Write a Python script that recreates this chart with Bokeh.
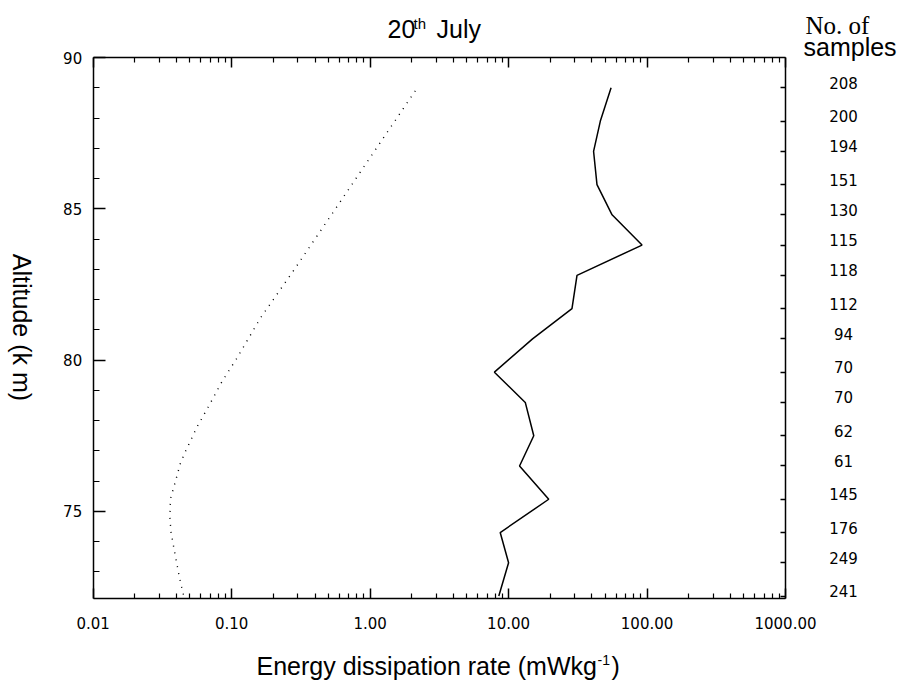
import math
from bokeh.plotting import figure
from bokeh.models import (Range1d, LogAxis, LinearAxis, FixedTicker, Label,
                          LabelSet, ColumnDataSource)
from bokeh.core.properties import value
from bokeh.embed import file_html
from bokeh.resources import INLINE

# ---------------- data ----------------
altitude_km = [89.0, 87.9, 86.9, 85.8, 84.8, 83.8, 82.8, 81.7, 80.7,
               79.6, 78.6, 77.5, 76.5, 75.4, 74.3, 73.3, 72.2]
dissipation_rate = [55.0, 46.0, 41.1, 43.5, 55.9, 92.0, 31.2, 28.7, 14.9,
                    7.9, 13.2, 15.2, 12.0, 19.5, 8.7, 10.0, 8.5]
n_samples = [208, 200, 194, 151, 130, 115, 118, 112, 94,
             70, 70, 62, 61, 145, 176, 249, 241]

model_altitude_km = [88.9, 87.0, 85.0, 83.0, 81.4, 80.0, 79.3, 78.5, 77.8,
                     77.0, 76.6, 76.0, 75.4, 74.8, 74.3, 73.5, 72.8, 72.2]
model_rate = [2.12, 1.11, 0.562, 0.284, 0.162, 0.107, 0.0854, 0.0687, 0.0564,
              0.0466, 0.0427, 0.0393, 0.0361, 0.0358, 0.0365, 0.0393, 0.042, 0.0451]

x_ticks = [0.01, 0.1, 1, 10, 100, 1000]
x_tick_labels = ["0.01", "0.10", "1.00", "10.00", "100.00", "1000.00"]
y_ticks = [75, 80, 85, 90]
y_tick_labels = ["75", "80", "85", "90"]

# ---------------- layout (canvas pixels) ----------------
W, H = 904, 681
BOX_L, BOX_R, BOX_T, BOX_B = 92.7, 785.0, 57.0, 598.0   # plot box on canvas
X0, X1 = 0.01, 1000.0                                    # box data extent
Y0, Y1 = 72.12, 90.0

DEC = (BOX_R - BOX_L) / (math.log10(X1) - math.log10(X0))   # px per decade
KM = (BOX_B - BOX_T) / (Y1 - Y0)                            # px per km

# the data ranges cover the whole canvas so that texts outside the box show
xr = Range1d(10 ** (math.log10(X0) - BOX_L / DEC), 10 ** (math.log10(X1) + (W - BOX_R) / DEC))
yr = Range1d(Y0 - (H - BOX_B) / KM, Y1 + BOX_T / KM)


def px_x(px):
    return 10 ** (math.log10(X0) + (px - BOX_L) / DEC)


def px_y(py):
    return Y1 - (py - BOX_T) / KM


p = figure(width=W, height=H, x_axis_type="log", x_range=xr, y_range=yr,
           x_axis_location=None, y_axis_location=None, title=None,
           output_backend="svg", toolbar_location=None,
           min_border_left=0, min_border_right=0,
           min_border_top=0, min_border_bottom=0)
p.background_fill_color = "white"
p.border_fill_color = "white"
p.outline_line_color = None
p.xgrid.visible = False
p.ygrid.visible = False

minor_x = [k * 10 ** e for e in range(-2, 3) for k in range(2, 10)]
minor_y = [v for v in range(73, 90) if v % 5 != 0]

TICK_FONT = "DejaVu Sans"


def style(ax):
    ax.axis_line_color = "black"
    ax.axis_line_width = 1.5
    ax.major_tick_line_color = "black"
    ax.minor_tick_line_color = "black"
    ax.major_tick_line_width = 1.5
    ax.minor_tick_line_width = 1.2
    ax.major_label_text_font = TICK_FONT
    ax.major_label_text_font_size = "15px"
    ax.major_label_text_color = "black"


# bottom axis
xa = LogAxis(ticker=FixedTicker(ticks=x_ticks, minor_ticks=minor_x),
             fixed_location=Y0, bounds=(X0, X1))
style(xa)
xa.major_label_overrides = {t: l for t, l in zip(x_ticks, x_tick_labels)}
xa.major_tick_in, xa.major_tick_out = 10, 0
xa.minor_tick_in, xa.minor_tick_out = 5, 0
xa.major_label_standoff = 18
p.add_layout(xa, "below")

# top axis (mirror, no labels)
top = LogAxis(ticker=FixedTicker(ticks=x_ticks, minor_ticks=minor_x),
              fixed_location=Y1, bounds=(X0, X1))
style(top)
top.major_tick_in, top.major_tick_out = 10, 0
top.minor_tick_in, top.minor_tick_out = 5, 0
top.major_label_text_alpha = 0
p.add_layout(top, "above")

# left axis
ya = LinearAxis(ticker=FixedTicker(ticks=y_ticks, minor_ticks=minor_y),
                fixed_location=X0, bounds=(Y0, Y1))
style(ya)
ya.major_label_overrides = {t: l for t, l in zip(y_ticks, y_tick_labels)}
ya.major_tick_in, ya.major_tick_out = 12, 0
ya.minor_tick_in, ya.minor_tick_out = 6, 0
ya.major_label_standoff = 11
p.add_layout(ya, "left")

# right axis: ticks at the sample altitudes
right = LinearAxis(ticker=FixedTicker(ticks=altitude_km, minor_ticks=[]),
                   fixed_location=X1, bounds=(Y0, Y1))
style(right)
right.major_tick_in, right.major_tick_out = 5, 0
right.minor_tick_in, right.minor_tick_out = 0, 0
right.major_label_text_alpha = 0
p.add_layout(right, "right")

# ---------------- data lines ----------------
p.line(model_rate, model_altitude_km, line_color="black", line_width=1.4,
       line_dash="1 6")
p.line(dissipation_rate, altitude_km, line_color="black", line_width=1.5)

# number of samples labels
src = ColumnDataSource(dict(alt=altitude_km, txt=[str(n) for n in n_samples]))
p.add_layout(LabelSet(x=px_x(843), y="alt", text="txt", source=src,
                      y_offset=5,
                      text_align="center", text_baseline="middle",
                      text_font=value("DejaVu Sans"),
                      text_font_size=value("15px"),
                      text_color="black"))

BIG = "Liberation Sans"


def lab(text, px, py, size, font=BIG, angle=0.0, align="left"):
    """py is the vertical centre of the text on the canvas"""
    p.add_layout(Label(x=px_x(px), y=px_y(py), text=text, text_font=font,
                       text_font_size=size, text_color="black", angle=angle,
                       text_align=align, text_baseline="middle"))


# title "20th July"
lab("20", 387, 28.5, "25px")
lab("th", 413, 22.5, "15px")
lab("July", 436, 28.5, "25px")

# right header
lab("No. of", 805, 25, "25px", font="Liberation Serif")
lab("samples", 803, 46.5, "25px")

# y label (reads top to bottom)
lab("Altitude (k m)", 21, 327, "25px", angle=-math.pi / 2, align="center")

# x label with superscript
lab("Energy dissipation rate (mWkg", 256, 665, "25px")
lab("-1", 597, 659, "14px")
lab(")", 611, 665, "25px")

open("out.html", "w").write(file_html(p, INLINE))
